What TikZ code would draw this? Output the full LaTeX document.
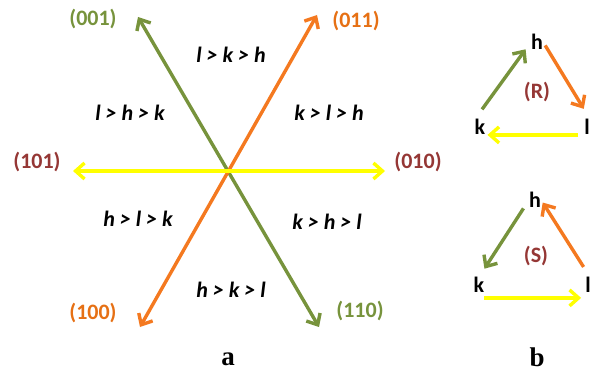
\documentclass[tikz,border=0pt]{standalone}
\usepackage{fontspec}
\setmainfont{Carlito}
\newfontfamily\panelfont{Liberation Serif}
\usetikzlibrary{arrows.meta}
\definecolor{axisgreen}{RGB}{119,147,60}
\definecolor{axisorange}{RGB}{244,121,32}
\definecolor{axisyellow}{RGB}{255,255,0}
\definecolor{millerred}{RGB}{149,55,53}
\definecolor{millerorange}{RGB}{230,112,20}

\begin{document}
\begin{tikzpicture}[
  x=1pt, y=1pt,
  >={Straight Barb[length=9pt,width=16pt]},
  axis/.style={<->, line width=3.4pt},
  turn/.style={->, line width=3.4pt},
  miller/.style={font=\fontsize{22}{22}\selectfont\bfseries, inner sep=0pt},
  order/.style={font=\fontsize{22}{22}\selectfont\bfseries\itshape, inner sep=0pt},
  index/.style={font=\fontsize{22}{22}\selectfont\bfseries, inner sep=0pt},
  panel/.style={font=\fontsize{27}{27}\selectfont\panelfont\bfseries, inner sep=0pt}
]
\useasboundingbox (0,0) rectangle (591,375);

% panel a: the three axes
\coordinate (t101) at (73,204);
\coordinate (t010) at (385,204);
\coordinate (t001) at (138,358);
\coordinate (t110) at (319,48);
\coordinate (t011) at (317,360);
\coordinate (t100) at (140,48);

\draw[axis, axisgreen] (t001) -- (t110);
\draw[axis, axisorange] (t011) -- (t100);
\draw[axis, axisyellow] (t101) -- (t010);

\node[miller, text=axisgreen] (n001) at (93,356) {(001)};
\node[miller, text=millerorange] (n011) at (356,354) {(011)};
\node[miller, text=millerred] (n101) at (37,213) {(101)};
\node[miller, text=millerred] (n010) at (418,213) {(010)};
\node[miller, text=millerorange] (n100) at (93,62) {(100)};
\node[miller, text=axisgreen] (n110) at (360,64) {(110)};

\node[order] (lkh) at (231,320) {l > k > h};
\node[order] (lhk) at (130,262) {l > h > k};
\node[order] (klh) at (329,262) {k > l > h};
\node[order] (hlk) at (138,156) {h > l > k};
\node[order] (khl) at (327,153) {k > h > l};
\node[order] (hkl) at (231,85) {h > k > l};

\node[panel] (pa) at (228,16) {a};

% panel b: the two cycles
\node[index] (hR) at (537,333) {h};
\node[index] (kR) at (480,248) {k};
\node[index] (lR) at (587,248) {l};
\node[index, text=millerred] (R) at (537,283) {(R)};

\draw[turn, axisgreen, shorten <=12pt, shorten >=9pt] ([xshift=-5pt]kR.north) -- (hR.west);
\draw[turn, axisorange, shorten <=4pt, shorten >=12pt] (hR.east) -- ([xshift=3pt]lR.north);
\draw[turn, axisyellow, shorten <=6pt, shorten >=2pt] (lR.south west) -- (kR.south east);

\node[index] (hS) at (535,175) {h};
\node[index] (kS) at (479,90) {k};
\node[index] (lS) at (588,90) {l};
\node[index, text=millerred] (S) at (536,119) {(S)};

\draw[turn, axisgreen, shorten <=10pt, shorten >=10pt] (hS.west) -- (kS.north);
\draw[turn, axisorange, shorten <=12pt, shorten >=3pt] ([xshift=2pt]lS.north) -- (hS.east);
\draw[turn, axisyellow, shorten >=4pt] ([yshift=-5pt]kS.south east) -- ([yshift=-5pt]kS.south east -| lS.west);

\node[panel] (pb) at (537,18) {b};
\end{tikzpicture}
\end{document}
